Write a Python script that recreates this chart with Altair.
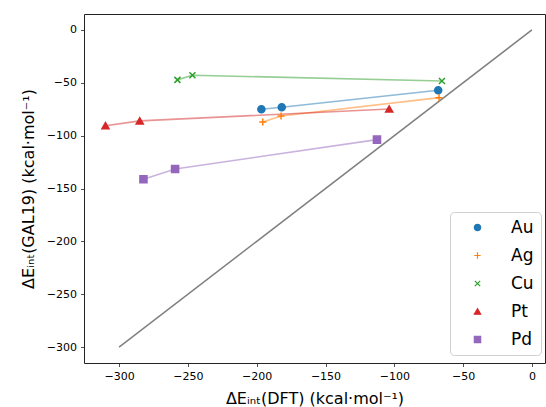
import altair as alt
import pandas as pd

metals = ["Au", "Ag", "Cu", "Pt", "Pd"]
colors = ["#1f77b4", "#ff7f0e", "#2ca02c", "#d62728", "#9467bd"]
shapes = ["circle",
          "M-1,0L1,0M0,-1L0,1",
          "M-0.85,-0.85L0.85,0.85M-0.85,0.85L0.85,-0.85",
          "triangle-up",
          "square"]

au_x = [-196.6, -181.8, -68.1]
au_y = [-75.0, -73.2, -57.1]
ag_x = [-195.6, -182.3, -67.5]
ag_y = [-87.1, -81.4, -64.1]
cu_x = [-257.6, -246.7, -65.4]
cu_y = [-47.3, -42.9, -48.3]
pt_x = [-309.9, -285.0, -103.7]
pt_y = [-90.6, -86.1, -74.8]
pd_x = [-282.3, -259.3, -112.6]
pd_y = [-141.3, -131.5, -103.8]

diag_x = [-300, 0]
diag_y = [-300, 0]

xs = [au_x, ag_x, cu_x, pt_x, pd_x]
ys = [au_y, ag_y, cu_y, pt_y, pd_y]
rows = []
for m, xx, yy in zip(metals, xs, ys):
    for a, b in zip(xx, yy):
        rows.append({"metal": m, "x": a, "y": b})
df = pd.DataFrame(rows)
diag = pd.DataFrame({"x": diag_x, "y": diag_y})

xscale = alt.Scale(domain=[-325.5, 9.5], nice=False, zero=False)
yscale = alt.Scale(domain=[-315, 15], nice=False, zero=False)
cscale = alt.Scale(domain=metals, range=colors)
sscale = alt.Scale(domain=metals, range=shapes)

xaxis = alt.Axis(values=[-300, -250, -200, -150, -100, -50, 0],
                 title="ΔEᵢₙₜ(DFT) (kcal·mol⁻¹)")
yaxis = alt.Axis(values=[-300, -250, -200, -150, -100, -50, 0],
                 title="ΔEᵢₙₜ(GAL19) (kcal·mol⁻¹)")

leg = alt.Legend(title=None, orient="none", legendX=366, legendY=198)

base_diag = alt.Chart(diag).mark_line(color="#808080", strokeWidth=1.5).encode(
    x=alt.X("x:Q", scale=xscale, axis=xaxis),
    y=alt.Y("y:Q", scale=yscale, axis=yaxis),
)

lines = alt.Chart(df).mark_line(strokeWidth=1.6, strokeOpacity=0.5).encode(
    x=alt.X("x:Q", scale=xscale),
    y=alt.Y("y:Q", scale=yscale),
    stroke=alt.Stroke("metal:N", scale=cscale, legend=leg),
    detail="metal:N",
)

points = alt.Chart(df).mark_point(filled=False, opacity=1, size=50, strokeWidth=1.5).encode(
    x=alt.X("x:Q", scale=xscale),
    y=alt.Y("y:Q", scale=yscale),
    stroke=alt.Stroke("metal:N", scale=cscale, legend=leg),
    fill=alt.Fill("metal:N", scale=cscale, legend=leg),
    shape=alt.Shape("metal:N", scale=sscale, legend=leg),
)

chart = alt.layer(base_diag, lines, points).properties(
    width=461, height=349,
    autosize=alt.AutoSizeParams(type="none"),
    padding={"left": 84, "top": 14, "right": 1, "bottom": 44},
).configure(
    font="DejaVu Sans",
).configure_view(
    stroke="#222222", strokeWidth=1,
).configure_axis(
    grid=False, domain=False,
    tickColor="#222222", tickSize=3.5, tickWidth=0.8,
    labelFont="DejaVu Sans", labelFontSize=11, labelColor="#000000",
    labelPadding=4,
    titleFont="DejaVu Sans", titleFontSize=16, titleFontWeight="normal", titleColor="#000000",
).configure_axisX(
    titlePadding=9,
).configure_axisY(
    titlePadding=10,
).configure_legend(
    labelFont="DejaVu Sans", labelFontSize=17, labelColor="#000000",
    strokeColor="#d0d0d0", fillColor="white", cornerRadius=4,
    padding=7, symbolOffset=12, labelOffset=25, rowPadding=10,
    symbolSize=40, symbolStrokeWidth=1.2, symbolOpacity=1,
)

chart.save("out.html", embed_options={"renderer": "svg", "actions": False})
